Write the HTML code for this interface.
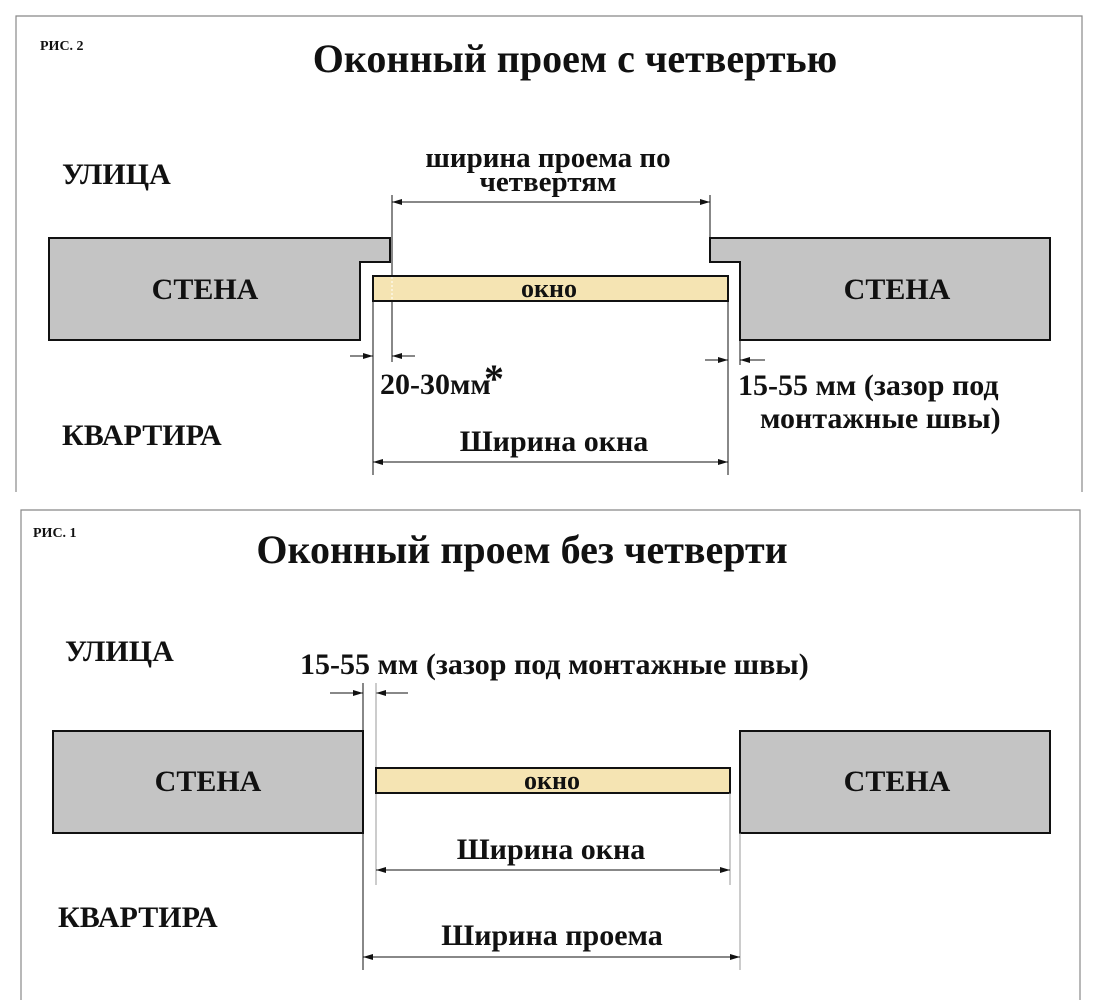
<!DOCTYPE html>
<html><head><meta charset="utf-8"><style>
html,body{margin:0;padding:0;background:#fff;}
svg{display:block;}
text{font-family:"Liberation Serif",serif;font-weight:bold;fill:#111;}
</style></head><body>
<svg width="1100" height="1000" viewBox="0 0 1100 1000" xmlns="http://www.w3.org/2000/svg">
<defs>
<marker id="a" viewBox="0 0 10 6" refX="10" refY="3" markerWidth="10" markerHeight="6" orient="auto-start-reverse" markerUnits="userSpaceOnUse"><path d="M0,0 L10,3 L0,6 z" fill="#111"/></marker>
</defs>
<path d="M16,492 L16,16 L1082,16 L1082,492" fill="none" stroke="#888" stroke-width="1.2"/>
<text x="40" y="50" font-size="14">РИС. 2</text>
<text x="575" y="72" font-size="40" text-anchor="middle">Оконный проем с четвертью</text>
<text x="62" y="184" font-size="30">УЛИЦА</text>
<text x="548" y="167" font-size="29" text-anchor="middle">ширина проема по</text>
<text x="548" y="191" font-size="29" text-anchor="middle">четвертям</text>
<line x1="392" y1="195" x2="392" y2="362" stroke="#111" stroke-width="1"/>
<line x1="710" y1="195" x2="710" y2="238" stroke="#111" stroke-width="1"/>
<line x1="392" y1="202" x2="710" y2="202" stroke="#111" stroke-width="1" marker-start="url(#a)" marker-end="url(#a)"/>
<polygon points="49,238 390,238 390,262 360,262 360,340 49,340" fill="#c4c4c4" stroke="#111" stroke-width="2"/>
<polygon points="710,238 1050,238 1050,340 740,340 740,262 710,262" fill="#c4c4c4" stroke="#111" stroke-width="2"/>
<text x="205" y="299" font-size="30" text-anchor="middle">СТЕНА</text>
<text x="897" y="299" font-size="30" text-anchor="middle">СТЕНА</text>
<rect x="373" y="276" width="355" height="25" fill="#f5e4b3" stroke="#111" stroke-width="2"/>
<line x1="392" y1="277" x2="392" y2="300" stroke="#fff" stroke-width="1" stroke-dasharray="2,2"/>
<text x="549" y="297" font-size="26" text-anchor="middle">окно</text>
<line x1="373" y1="300" x2="373" y2="475" stroke="#111" stroke-width="1"/>
<line x1="728" y1="300" x2="728" y2="475" stroke="#111" stroke-width="1"/>
<line x1="350" y1="356" x2="373" y2="356" stroke="#111" stroke-width="1" marker-end="url(#a)"/>
<line x1="415" y1="356" x2="392" y2="356" stroke="#111" stroke-width="1" marker-end="url(#a)"/>
<text x="380" y="394" font-size="30">20-30мм</text>
<text x="484" y="392" font-size="40">*</text>
<line x1="705" y1="360" x2="728" y2="360" stroke="#111" stroke-width="1" marker-end="url(#a)"/>
<line x1="765" y1="360" x2="740" y2="360" stroke="#111" stroke-width="1" marker-end="url(#a)"/>
<line x1="740" y1="340" x2="740" y2="365" stroke="#111" stroke-width="1"/>
<text x="738" y="395" font-size="30">15-55 мм (зазор под</text>
<text x="760" y="428" font-size="30">монтажные швы)</text>
<text x="62" y="445" font-size="30">КВАРТИРА</text>
<text x="554" y="451" font-size="30" text-anchor="middle">Ширина окна</text>
<line x1="373" y1="462" x2="728" y2="462" stroke="#111" stroke-width="1" marker-start="url(#a)" marker-end="url(#a)"/>

<path d="M21,1000 L21,510 L1080,510 L1080,1000" fill="none" stroke="#888" stroke-width="1.2"/>
<text x="33" y="537" font-size="14">РИС. 1</text>
<text x="522" y="563" font-size="40" text-anchor="middle">Оконный проем без четверти</text>
<text x="65" y="661" font-size="30">УЛИЦА</text>
<text x="300" y="674" font-size="30">15-55 мм (зазор под монтажные швы)</text>
<line x1="330" y1="693" x2="363" y2="693" stroke="#111" stroke-width="1" marker-end="url(#a)"/>
<line x1="408" y1="693" x2="376" y2="693" stroke="#111" stroke-width="1" marker-end="url(#a)"/>
<line x1="363" y1="683" x2="363" y2="970" stroke="#111" stroke-width="1"/>
<line x1="376" y1="683" x2="376" y2="885" stroke="#999" stroke-width="1"/>
<rect x="53" y="731" width="310" height="102" fill="#c4c4c4" stroke="#111" stroke-width="2"/>
<rect x="740" y="731" width="310" height="102" fill="#c4c4c4" stroke="#111" stroke-width="2"/>
<text x="208" y="791" font-size="30" text-anchor="middle">СТЕНА</text>
<text x="897" y="791" font-size="30" text-anchor="middle">СТЕНА</text>
<rect x="376" y="768" width="354" height="25" fill="#f5e4b3" stroke="#111" stroke-width="2"/>
<text x="552" y="789" font-size="26" text-anchor="middle">окно</text>
<line x1="730" y1="793" x2="730" y2="885" stroke="#999" stroke-width="1"/>
<text x="551" y="859" font-size="30" text-anchor="middle">Ширина окна</text>
<line x1="376" y1="870" x2="730" y2="870" stroke="#111" stroke-width="1" marker-start="url(#a)" marker-end="url(#a)"/>
<text x="58" y="927" font-size="30">КВАРТИРА</text>
<line x1="740" y1="833" x2="740" y2="970" stroke="#999" stroke-width="1"/>
<text x="552" y="945" font-size="30" text-anchor="middle">Ширина проема</text>
<line x1="363" y1="957" x2="740" y2="957" stroke="#111" stroke-width="1" marker-start="url(#a)" marker-end="url(#a)"/>
</svg>
</body></html>
